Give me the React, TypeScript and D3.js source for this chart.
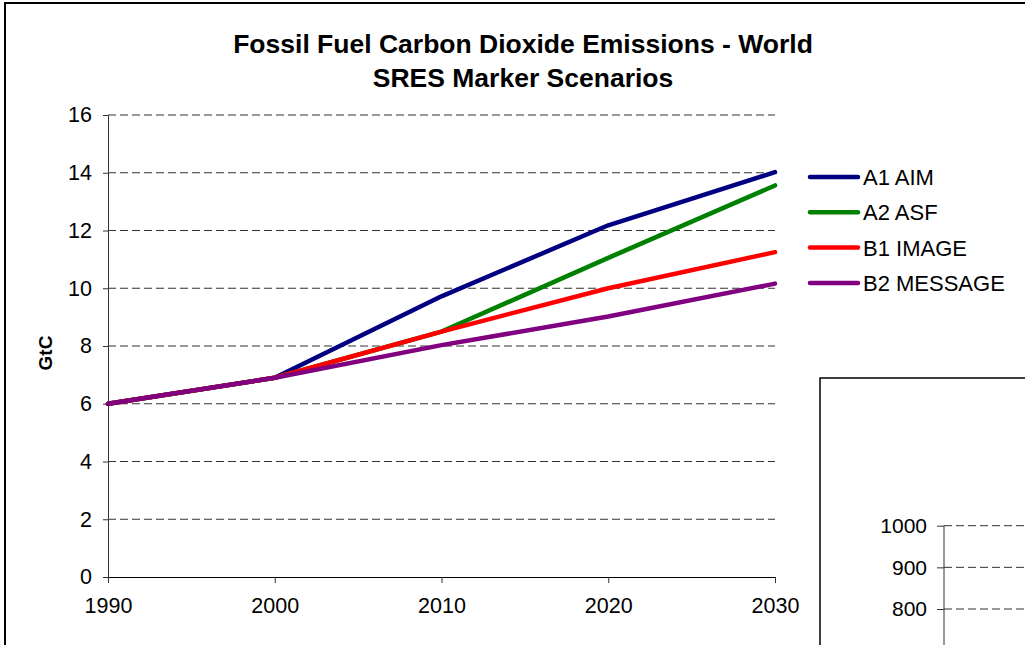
import React, { useEffect, useRef } from "react";
import * as d3 from "d3";

const years = [1990, 2000, 2010, 2020, 2030];
const yTicks = [0, 2, 4, 6, 8, 10, 12, 14, 16];

const a1Aim = [6.0, 6.9, 9.72, 12.18, 14.02];
const a2Asf = [6.0, 6.9, 8.5, 11.05, 13.56];
const b1Image = [6.0, 6.9, 8.5, 10.0, 11.25];
const b2Message = [6.0, 6.9, 8.03, 9.02, 10.16];

const seriesNames = ["A1 AIM", "A2 ASF", "B1 IMAGE", "B2 MESSAGE"];
const seriesColors = ["#000080", "#008000", "#ff0000", "#800080"];

// second (cut off) chart in the lower right corner
const inset2Ticks = [1000, 900, 800];

const W = 1025;
const H = 645;
const margin = { top: 115, right: 250, bottom: 68, left: 108 };
const font = "'Liberation Sans', Arial, sans-serif";

const App = () => {
  const svgRef = useRef<SVGSVGElement>(null);

  useEffect(() => {
    const svg = d3.select(svgRef.current);
    svg.selectAll("*").remove();

    const x = d3
      .scaleLinear()
      .domain([1990, 2030])
      .range([margin.left, W - margin.right]);
    const y = d3
      .scaleLinear()
      .domain([0, 16])
      .range([H - margin.bottom, margin.top]);

    // outer frame
    svg
      .append("rect")
      .attr("x", 5)
      .attr("y", 3)
      .attr("width", W + 20)
      .attr("height", H + 20)
      .attr("fill", "white")
      .attr("stroke", "black")
      .attr("stroke-width", 2);

    // title
    const title = svg
      .append("text")
      .attr("text-anchor", "middle")
      .attr("font-family", font)
      .attr("font-weight", "bold")
      .attr("font-size", 26.5)
      .attr("fill", "black");
    title.append("tspan").attr("x", 523).attr("y", 53).text("Fossil Fuel Carbon Dioxide Emissions - World");
    title.append("tspan").attr("x", 523).attr("y", 87).text("SRES Marker Scenarios");

    // gridlines
    svg
      .append("g")
      .selectAll("line")
      .data(yTicks.filter((d) => d > 0))
      .join("line")
      .attr("x1", x(1990))
      .attr("x2", x(2030))
      .attr("y1", (d) => y(d))
      .attr("y2", (d) => y(d))
      .attr("stroke", "#333")
      .attr("stroke-width", 1)
      .attr("stroke-dasharray", "8,4");

    // y axis
    const yAxis = d3.axisLeft(y).tickValues(yTicks).tickSize(5).tickPadding(11);
    const gy = svg
      .append("g")
      .attr("transform", `translate(${x(1990)},0)`)
      .call(yAxis);
    gy.select(".domain").attr("stroke", "#333");
    gy.selectAll(".tick line").attr("stroke", "#333");
    gy.selectAll(".tick text")
      .attr("font-family", font)
      .attr("font-size", 21.5)
      .attr("fill", "black");

    // x axis
    const xAxis = d3
      .axisBottom(x)
      .tickValues(years)
      .tickFormat(d3.format("d"))
      .tickSize(6)
      .tickPadding(15);
    const gx = svg
      .append("g")
      .attr("transform", `translate(0,${y(0)})`)
      .call(xAxis);
    gx.select(".domain").attr("stroke", "black");
    gx.selectAll(".tick line").attr("stroke", "#333");
    gx.selectAll(".tick text")
      .attr("font-family", font)
      .attr("font-size", 21.5)
      .attr("fill", "black");

    // y label
    svg
      .append("text")
      .attr("transform", `translate(52,353) rotate(-90)`)
      .attr("text-anchor", "middle")
      .attr("font-family", font)
      .attr("font-weight", "bold")
      .attr("font-size", 19)
      .text("GtC");

    // lines
    const allSeries = [a1Aim, a2Asf, b1Image, b2Message];
    const line = d3
      .line<number>()
      .x((d, i) => x(years[i]))
      .y((d) => y(d));
    svg
      .append("g")
      .selectAll("path")
      .data(allSeries)
      .join("path")
      .attr("d", (d) => line(d))
      .attr("fill", "none")
      .attr("stroke", (d, i) => seriesColors[i])
      .attr("stroke-width", 4.5)
      .attr("stroke-linecap", "round")
      .attr("stroke-linejoin", "round");

    // legend
    const legend = svg
      .append("g")
      .selectAll("g")
      .data(seriesNames)
      .join("g")
      .attr("transform", (d, i) => `translate(810,${177 + i * 35.3})`);
    legend
      .append("line")
      .attr("x1", 0)
      .attr("x2", 48)
      .attr("stroke", (d, i) => seriesColors[i])
      .attr("stroke-width", 4.5)
      .attr("stroke-linecap", "round");
    legend
      .append("text")
      .attr("x", 53)
      .attr("y", 8)
      .attr("font-family", font)
      .attr("font-size", 22)
      .text((d) => d);

    // second chart peeking in at bottom right
    const y2 = d3.scaleLinear().domain([800, 1000]).range([609, 525.7]);
    svg
      .append("rect")
      .attr("x", 820)
      .attr("y", 378)
      .attr("width", 300)
      .attr("height", 400)
      .attr("fill", "white")
      .attr("stroke", "black")
      .attr("stroke-width", 1.5);
    svg
      .append("g")
      .selectAll("line")
      .data(inset2Ticks)
      .join("line")
      .attr("x1", 944)
      .attr("x2", W)
      .attr("y1", (d) => y2(d))
      .attr("y2", (d) => y2(d))
      .attr("stroke", "#333")
      .attr("stroke-dasharray", "8,4");
    const gy2 = svg
      .append("g")
      .attr("transform", "translate(944,0)")
      .call(d3.axisLeft(y2).tickValues(inset2Ticks).tickSize(7).tickPadding(10).tickFormat(d3.format("d")));
    gy2.select(".domain").remove();
    gy2.selectAll(".tick line").attr("stroke", "#333");
    gy2.selectAll(".tick text")
      .attr("font-family", font)
      .attr("font-size", 21)
      .attr("fill", "black");
    svg
      .append("line")
      .attr("x1", 944)
      .attr("x2", 944)
      .attr("y1", y2(1000))
      .attr("y2", H)
      .attr("stroke", "#333");
  }, []);

  return (
    <svg
      ref={svgRef}
      width={W}
      height={H}
      style={{ position: "absolute", left: 0, top: 0, display: "block" }}
    />
  );
};

export default App;
